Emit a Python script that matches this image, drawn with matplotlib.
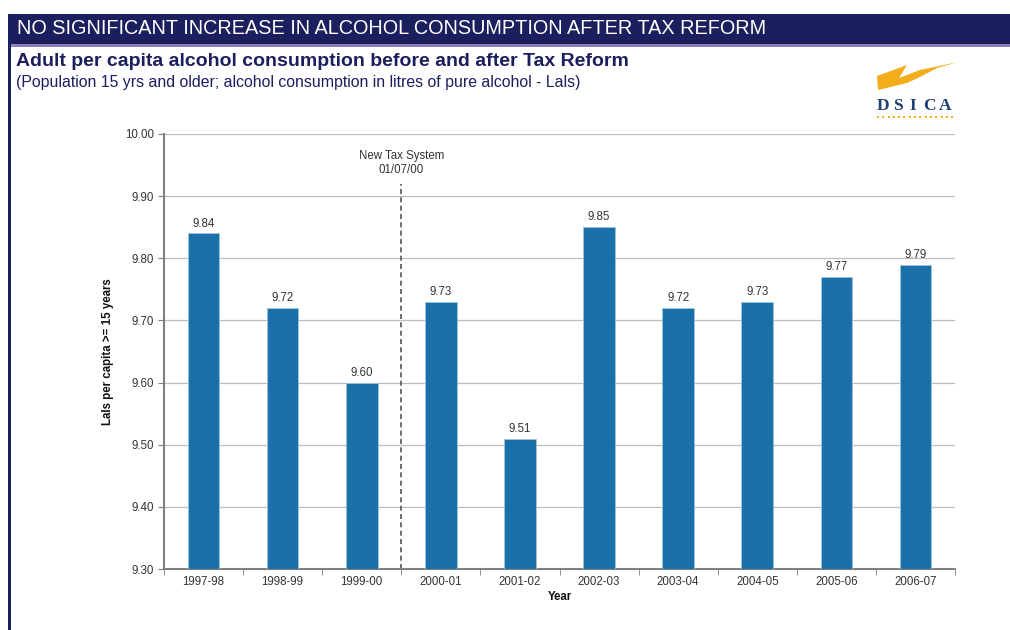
import matplotlib
matplotlib.use("Agg")
import matplotlib.pyplot as plt
from matplotlib.patches import Rectangle, Polygon
import numpy as np

plt.rcParams['font.family'] = ['Liberation Sans', 'DejaVu Sans']

years = ["1997-98", "1998-99", "1999-00", "2000-01", "2001-02",
         "2002-03", "2003-04", "2004-05", "2005-06", "2006-07"]
lals = [9.84, 9.72, 9.60, 9.73, 9.51, 9.85, 9.72, 9.73, 9.77, 9.79]
value_labels = ["9.84", "9.72", "9.60", "9.73", "9.51", "9.85", "9.72", "9.73", "9.77", "9.79"]
yticks = [9.30, 9.40, 9.50, 9.60, 9.70, 9.80, 9.90, 10.00]
reform_position = 2.5  # between 1999-00 and 2000-01

W, H = 1010, 630
fig = plt.figure(figsize=(W / 100, H / 100), dpi=100)
fig.patch.set_facecolor("white")

navy = "#1c1f5e"

def fx(px):
    return px / W

def fy(py):
    return 1 - py / H

# Header band and frame
fig.patches.append(Rectangle((fx(8), fy(44)), fx(1002), 30 / H, transform=fig.transFigure,
                             facecolor=navy, edgecolor="none", zorder=0))
fig.patches.append(Rectangle((fx(8), fy(47)), fx(1002), 3 / H, transform=fig.transFigure,
                             facecolor="#8c7fc0", edgecolor="none", zorder=0))
fig.patches.append(Rectangle((fx(8), 0), 3 / W, fy(44), transform=fig.transFigure,
                             facecolor=navy, edgecolor="none", zorder=0))

fig.text(fx(17), fy(29), "NO SIGNIFICANT INCREASE IN ALCOHOL CONSUMPTION AFTER TAX REFORM",
         color="white", fontsize=14.3, va="center", ha="left")
fig.text(fx(16), fy(61), "Adult per capita alcohol consumption before and after Tax Reform",
         color=navy, fontsize=14, fontweight="bold", va="center", ha="left")
fig.text(fx(16), fy(82), "(Population 15 yrs and older; alcohol consumption in litres of pure alcohol - Lals)",
         color=navy, fontsize=11.4, va="center", ha="left")

# Logo: lightning bolt, lettering and dotted rule
bolt = [(877, 76), (907, 65), (899, 78), (920, 70), (958, 62),
        (937, 68), (922, 76), (907, 83), (878, 90)]
fig.patches.append(Polygon([(fx(x), fy(y)) for x, y in bolt], closed=True,
                           transform=fig.transFigure, facecolor="#f3ad1a", edgecolor="none"))
for letter, cx in zip("DSICA", [883, 898, 913, 929, 945]):
    fig.text(fx(cx), fy(106), letter, color="#1f4172", fontsize=12.5,
             family=["Liberation Serif", "DejaVu Serif"], fontweight="bold",
             ha="center", va="center")
dot_x = np.arange(878, 953, 5.3)
fig.add_artist(plt.Line2D([fx(v) for v in dot_x], [fy(117)] * len(dot_x),
                          transform=fig.transFigure, linestyle="none", marker="s",
                          markersize=1.6, color="#f3ad1a", markeredgewidth=0))

# Chart
ax = fig.add_axes([fx(164), fy(569), fx(955 - 164), (569 - 134) / H])
x = np.arange(len(years))
ax.bar(x, [v - yticks[0] for v in lals], bottom=yticks[0], width=0.4,
       color="#1a70a8", edgecolor="#9fc3dd", linewidth=0.6, zorder=3)
for xi, v, lab in zip(x, lals, value_labels):
    ax.text(xi, v + 0.006, lab, ha="center", va="bottom", fontsize=8.3, color="#333333", zorder=4)

ax.set_xlim(-0.5, len(years) - 0.5)
ax.set_ylim(yticks[0], yticks[-1])
ax.set_yticks(yticks)
ax.set_yticklabels([f"{t:.2f}" for t in yticks], fontsize=8.3, color="#333333")
ax.set_xticks(x)
ax.set_xticklabels(years, fontsize=8.3, color="#333333")
ax.tick_params(axis="x", length=0, pad=5)
ax.set_xticks(np.arange(len(years) + 1) - 0.5, minor=True)
ax.tick_params(axis="x", which="minor", length=4, color="#808080")
ax.tick_params(axis="y", length=4, color="#808080", pad=3)
ax.grid(axis="y", color="#bdbdbd", linewidth=0.9, zorder=0)
ax.set_axisbelow(True)
for s in ["top", "right"]:
    ax.spines[s].set_visible(False)
for s in ["left", "bottom"]:
    ax.spines[s].set_color("#808080")
    ax.spines[s].set_linewidth(1.5)

ax.plot([reform_position, reform_position], [yticks[0], 9.92], linestyle=(0, (3, 2)),
        color="#555555", linewidth=1.2, zorder=2)
ax.text(reform_position, 9.932, "New Tax System\n01/07/00", ha="center", va="bottom",
        fontsize=8.3, color="#333333", linespacing=1.3)

ax.set_xlabel("Year", fontsize=8.3, fontweight="bold", color="#111111", labelpad=2)
ax.set_ylabel("Lals per capita >= 15 years", fontsize=8.3, fontweight="bold", color="#111111",
              labelpad=8)

fig.savefig("out.png", dpi=100)
